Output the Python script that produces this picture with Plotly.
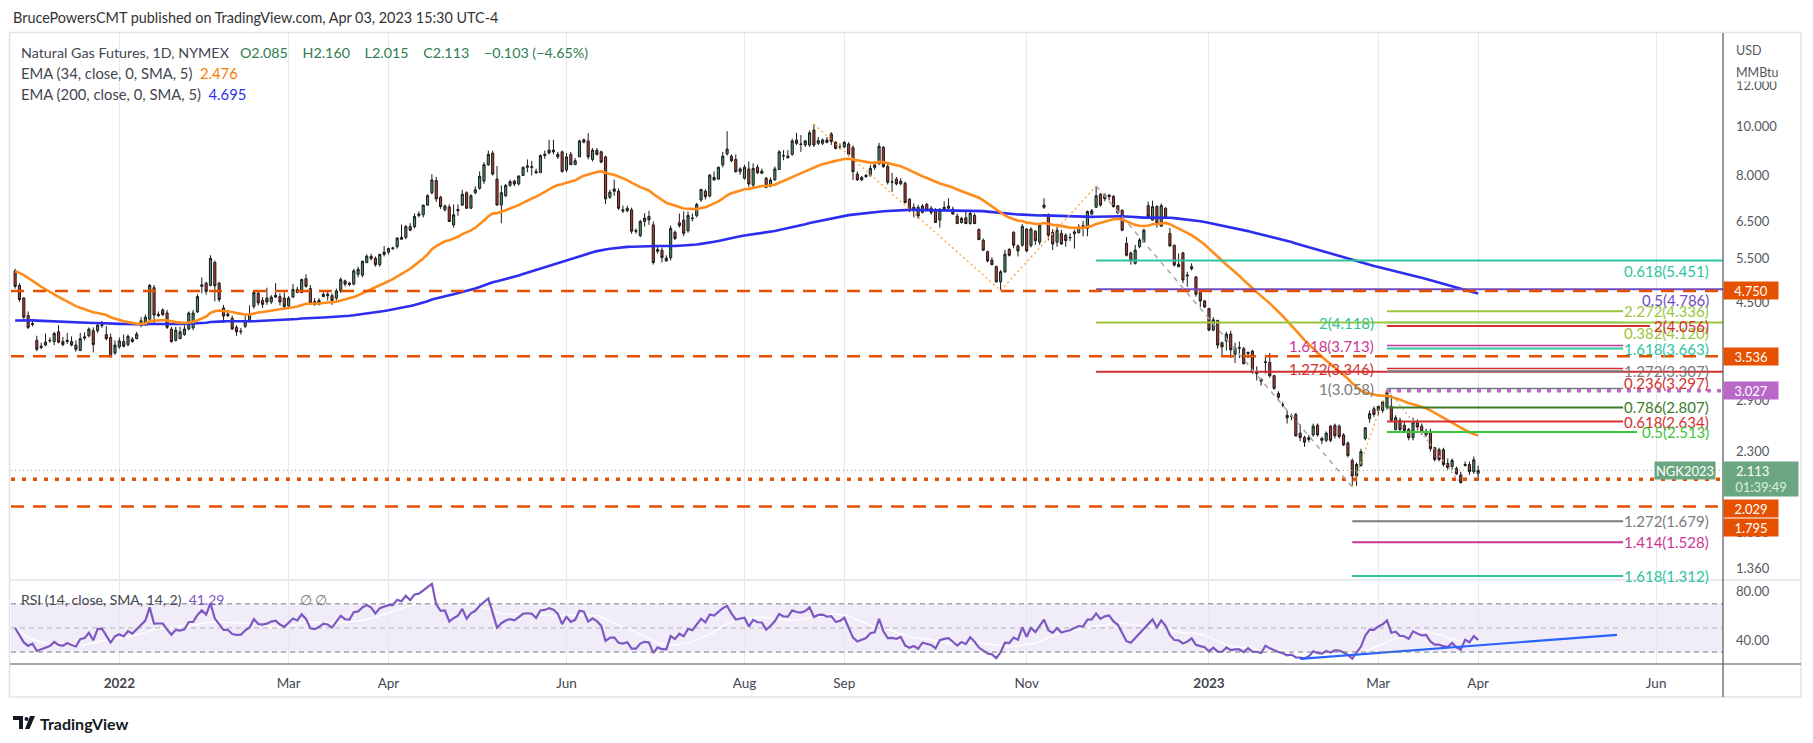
import numpy as np
import pandas as pd
import plotly.graph_objects as go

# ---------------------------------------------------------------- data
HOLIDAYS = ["2021-12-24", "2022-01-17", "2022-02-21", "2022-04-15", "2022-05-30",
            "2022-06-20", "2022-07-04", "2022-09-05", "2022-11-24", "2022-12-26",
            "2023-01-02", "2023-01-16", "2023-02-20", "2023-04-07", "2023-05-29"]
FIRST_BAR = "2021-11-29"

opens = [
    5.20, 4.87, 4.60, 4.25, 4.08, 3.80, 3.68, 3.72, 3.79, 3.78,
    3.95, 3.78, 3.78, 3.78, 3.72, 3.63, 3.84, 3.88, 3.97, 3.97,
    4.06, 3.90, 3.85, 3.59, 3.69, 3.78, 3.73, 3.82, 3.83, 4.15,
    4.10, 4.18, 4.82, 4.25, 4.36, 4.30, 4.00, 3.80, 3.83, 3.90,
    4.00, 4.02, 4.32, 4.85, 4.92, 4.87, 5.40, 4.92, 4.40, 4.28,
    4.20, 4.03, 3.95, 4.05, 4.15, 4.43, 4.70, 4.55, 4.60, 4.52,
    4.62, 4.63, 4.60, 4.44, 4.62, 4.78, 4.72, 5.02, 4.80, 4.53,
    4.47, 4.63, 4.68, 4.65, 4.60, 4.75, 4.97, 4.92, 4.90, 5.12,
    5.10, 5.40, 5.55, 5.50, 5.35, 5.60, 5.66, 5.77, 5.80, 6.05,
    6.05, 6.35, 6.35, 6.68, 6.70, 7.00, 7.40, 7.82, 7.25, 6.85,
    6.94, 6.40, 6.82, 7.00, 7.40, 6.90, 7.40, 7.55, 7.80, 8.40,
    8.85, 7.87, 7.00, 7.30, 7.65, 7.80, 7.70, 8.00, 8.30, 8.30,
    8.15, 8.10, 8.75, 8.85, 8.97, 8.80, 8.90, 8.20, 8.80, 8.40,
    8.70, 9.40, 9.35, 8.60, 8.97, 8.90, 8.70, 7.25, 7.53, 7.45,
    6.85, 6.82, 6.85, 6.24, 6.10, 6.50, 6.65, 6.40, 5.68, 5.71,
    5.44, 5.52, 6.19, 6.46, 6.54, 6.23, 6.60, 6.67, 7.16, 7.45,
    7.29, 7.84, 7.87, 8.39, 8.82, 8.73, 8.60, 8.14, 7.90, 8.24,
    7.66, 8.30, 8.16, 7.90, 7.66, 7.84, 8.22, 8.75, 8.67, 8.80,
    9.39, 9.20, 9.18, 9.18, 9.82, 9.25, 9.25, 9.39, 9.65, 9.29,
    9.10, 9.10, 9.22, 9.07, 8.05, 7.84, 7.95, 8.01, 8.39, 8.43,
    9.09, 8.33, 7.76, 7.87, 7.71, 7.72, 7.19, 6.84, 6.93, 6.77,
    7.02, 6.90, 6.82, 6.54, 6.87, 6.90, 6.87, 6.66, 6.47, 6.61,
    6.44, 6.68, 6.27, 5.97, 5.67, 5.46, 5.30, 4.95, 5.18, 5.73,
    6.19, 5.82, 5.84, 6.28, 5.83, 6.22, 5.92, 7.00, 6.69, 6.19,
    5.92, 6.16, 6.11, 6.05, 6.15, 6.18, 6.38, 6.30, 6.72, 6.93,
    7.35, 7.32, 7.32, 7.28, 6.98, 6.84, 5.89, 5.64, 5.38, 5.80,
    5.92, 6.98, 6.54, 6.95, 6.36, 6.90, 6.16, 5.84, 5.36, 5.64,
    5.08, 5.25, 5.06, 4.77, 4.54, 4.39, 3.98, 4.16, 3.76, 3.79,
    3.91, 3.57, 3.68, 3.66, 3.60, 3.62, 3.30, 3.19, 3.45, 3.44,
    3.24, 2.99, 2.84, 2.71, 2.70, 2.72, 2.50, 2.45, 2.43, 2.48,
    2.59, 2.42, 2.42, 2.58, 2.59, 2.58, 2.48, 2.39, 2.21, 2.06,
    2.16, 2.44, 2.67, 2.79, 2.77, 2.77, 2.81, 2.82, 2.54, 2.65,
    2.59, 2.54, 2.45, 2.62, 2.58, 2.48, 2.52, 2.34, 2.32, 2.32,
    2.18, 2.15, 2.13, 2.07, 2.16, 2.17, 2.10, 2.085]

highs = [
    5.25, 4.92, 4.62, 4.33, 4.14, 3.88, 3.76, 3.92, 3.85, 3.95,
    4.07, 3.86, 3.93, 3.87, 3.80, 3.93, 3.94, 4.03, 4.03, 4.10,
    4.15, 4.05, 3.92, 3.80, 3.85, 3.90, 3.90, 3.86, 3.95, 4.22,
    4.27, 4.90, 4.88, 4.33, 4.39, 4.36, 4.04, 4.04, 4.04, 4.07,
    4.33, 4.36, 4.68, 5.05, 4.95, 5.58, 5.45, 4.95, 4.46, 4.36,
    4.25, 4.07, 4.02, 4.25, 4.45, 4.74, 4.75, 4.62, 4.82, 4.66,
    4.92, 4.70, 4.72, 4.64, 4.90, 4.84, 5.02, 5.12, 4.88, 4.60,
    4.60, 4.72, 4.76, 4.70, 4.80, 5.05, 5.00, 4.95, 5.25, 5.30,
    5.45, 5.60, 5.62, 5.55, 5.62, 5.82, 5.78, 5.80, 6.05, 6.41,
    6.40, 6.45, 6.74, 6.80, 7.00, 7.35, 8.05, 7.95, 7.30, 7.02,
    7.02, 7.02, 7.02, 7.50, 7.45, 7.35, 7.62, 8.15, 8.50, 8.95,
    8.95, 8.35, 7.65, 7.70, 7.85, 7.85, 8.00, 8.33, 8.60, 8.55,
    8.25, 8.80, 8.95, 9.40, 9.40, 8.90, 8.95, 8.85, 8.90, 8.65,
    9.40, 9.45, 9.68, 9.05, 9.05, 8.95, 8.75, 7.50, 7.85, 7.55,
    6.98, 6.98, 6.92, 6.30, 6.55, 6.75, 6.82, 6.50, 5.85, 5.78,
    5.58, 6.38, 6.24, 6.74, 6.80, 6.80, 6.74, 7.07, 7.53, 7.52,
    8.05, 8.15, 8.33, 8.90, 9.77, 8.80, 8.80, 8.30, 8.40, 8.52,
    8.45, 8.40, 8.25, 7.95, 7.93, 8.33, 8.97, 8.97, 8.97, 9.45,
    9.70, 9.60, 9.40, 9.80, 10.08, 9.52, 9.45, 9.52, 9.73, 9.34,
    9.25, 9.35, 9.30, 9.17, 8.15, 7.98, 8.05, 8.40, 8.52, 9.27,
    9.13, 8.43, 8.10, 7.95, 7.90, 7.78, 7.21, 7.05, 7.00, 7.03,
    7.07, 6.97, 6.90, 6.90, 7.12, 7.22, 6.95, 6.74, 6.64, 6.80,
    6.80, 6.74, 6.30, 6.02, 5.70, 5.53, 5.33, 5.22, 5.72, 5.76,
    6.22, 5.86, 6.42, 6.31, 6.33, 6.25, 6.46, 7.22, 6.74, 6.28,
    6.35, 6.26, 6.16, 6.16, 6.26, 6.42, 6.52, 6.83, 6.88, 7.63,
    7.38, 7.38, 7.35, 7.32, 6.99, 6.86, 6.06, 5.67, 5.85, 6.03,
    6.29, 7.11, 7.14, 7.00, 7.05, 6.93, 6.31, 5.85, 5.63, 5.67,
    5.18, 5.38, 5.08, 4.77, 4.56, 4.39, 4.22, 4.16, 3.78, 3.95,
    3.97, 3.76, 3.78, 3.69, 3.61, 3.64, 3.38, 3.20, 3.56, 3.59,
    3.25, 3.02, 2.88, 2.77, 2.73, 2.74, 2.60, 2.47, 2.48, 2.61,
    2.61, 2.46, 2.52, 2.59, 2.61, 2.60, 2.50, 2.41, 2.23, 2.19,
    2.33, 2.57, 2.77, 2.82, 2.83, 2.90, 3.058, 2.97, 2.71, 2.68,
    2.63, 2.56, 2.68, 2.66, 2.61, 2.55, 2.55, 2.35, 2.34, 2.34,
    2.23, 2.23, 2.15, 2.10, 2.20, 2.20, 2.25, 2.16]

lows = [
    4.80, 4.52, 4.18, 4.00, 4.05, 3.62, 3.65, 3.70, 3.76, 3.72,
    3.75, 3.70, 3.74, 3.70, 3.61, 3.62, 3.80, 3.85, 3.60, 3.93,
    4.02, 3.80, 3.52, 3.56, 3.66, 3.68, 3.70, 3.76, 3.82, 4.03,
    4.06, 4.12, 4.08, 4.22, 4.24, 4.00, 3.76, 3.78, 3.82, 3.88,
    3.98, 3.98, 4.30, 4.70, 4.67, 4.85, 4.53, 4.52, 4.11, 4.22,
    3.98, 3.88, 3.90, 4.02, 4.12, 4.38, 4.45, 4.40, 4.46, 4.48,
    4.60, 4.45, 4.38, 4.40, 4.60, 4.70, 4.70, 4.82, 4.48, 4.44,
    4.45, 4.62, 4.55, 4.46, 4.55, 4.71, 4.85, 4.85, 4.87, 5.05,
    5.05, 5.38, 5.45, 5.30, 5.30, 5.55, 5.60, 5.72, 5.75, 5.98,
    6.00, 6.22, 6.30, 6.62, 6.62, 6.98, 7.35, 7.10, 6.88, 6.80,
    6.50, 6.32, 6.67, 6.97, 6.88, 6.88, 7.35, 7.50, 7.70, 8.35,
    8.00, 6.98, 6.45, 7.25, 7.60, 7.62, 7.65, 7.98, 8.12, 8.00,
    8.05, 8.10, 8.63, 8.80, 8.80, 8.62, 8.10, 8.12, 8.40, 8.40,
    8.70, 9.25, 8.60, 8.52, 8.75, 8.45, 7.03, 7.20, 7.30, 6.85,
    6.75, 6.78, 6.15, 6.15, 6.05, 6.35, 6.40, 5.35, 5.62, 5.40,
    5.42, 5.45, 5.98, 6.32, 6.08, 6.18, 6.50, 6.62, 7.10, 7.18,
    7.25, 7.82, 7.85, 8.30, 8.75, 8.50, 8.10, 8.02, 7.85, 7.60,
    7.60, 8.05, 8.06, 7.55, 7.58, 7.82, 8.20, 8.57, 8.63, 8.75,
    9.18, 8.90, 9.10, 9.10, 9.10, 9.18, 9.18, 9.25, 9.18, 9.00,
    9.00, 9.05, 8.72, 7.84, 7.82, 7.80, 7.93, 7.95, 8.20, 8.40,
    8.28, 7.68, 7.43, 7.65, 7.65, 7.05, 6.78, 6.62, 6.58, 6.74,
    6.80, 6.70, 6.46, 6.32, 6.84, 6.88, 6.70, 6.42, 6.44, 6.42,
    6.41, 6.42, 5.98, 5.69, 5.40, 5.33, 4.93, 4.76, 5.15, 5.55,
    5.76, 5.55, 5.80, 5.66, 5.78, 5.85, 5.85, 6.88, 5.97, 5.71,
    5.80, 5.85, 5.80, 5.95, 5.75, 6.16, 6.08, 6.08, 6.70, 6.92,
    6.95, 7.12, 7.15, 6.92, 6.72, 6.22, 5.55, 5.35, 5.35, 5.76,
    5.90, 6.58, 6.53, 6.32, 6.36, 6.60, 5.80, 5.30, 5.29, 4.92,
    4.84, 5.21, 4.63, 4.42, 4.40, 3.96, 3.96, 3.66, 3.54, 3.63,
    3.51, 3.43, 3.51, 3.41, 3.51, 3.27, 3.17, 3.10, 3.27, 3.21,
    3.04, 2.89, 2.81, 2.61, 2.65, 2.46, 2.41, 2.35, 2.40, 2.46,
    2.46, 2.38, 2.40, 2.40, 2.44, 2.44, 2.36, 2.24, 1.96, 1.97,
    2.15, 2.42, 2.62, 2.69, 2.71, 2.74, 2.78, 2.63, 2.53, 2.52,
    2.50, 2.42, 2.42, 2.53, 2.48, 2.46, 2.30, 2.20, 2.20, 2.15,
    2.12, 2.12, 2.07, 1.99, 2.15, 2.07, 2.08, 2.015]

closes = [
    4.85, 4.57, 4.22, 4.03, 4.10, 3.65, 3.70, 3.77, 3.80, 3.92,
    3.77, 3.73, 3.80, 3.72, 3.65, 3.83, 3.86, 4.00, 3.73, 4.07,
    4.08, 3.83, 3.53, 3.72, 3.79, 3.70, 3.87, 3.78, 3.91, 4.08,
    4.22, 4.87, 4.26, 4.27, 4.27, 4.03, 3.78, 3.98, 3.95, 4.00,
    4.30, 4.30, 4.63, 4.88, 4.74, 5.50, 4.86, 4.57, 4.24, 4.25,
    4.00, 3.95, 3.96, 4.15, 4.28, 4.72, 4.50, 4.47, 4.52, 4.62,
    4.66, 4.52, 4.43, 4.60, 4.78, 4.72, 5.00, 4.85, 4.50, 4.47,
    4.55, 4.68, 4.65, 4.55, 4.75, 5.00, 4.90, 4.89, 5.20, 5.24,
    5.43, 5.56, 5.50, 5.35, 5.60, 5.66, 5.75, 5.75, 6.03, 6.00,
    6.35, 6.25, 6.65, 6.72, 7.00, 7.30, 7.84, 7.20, 6.95, 6.97,
    6.50, 6.70, 6.86, 7.35, 6.90, 7.30, 7.50, 7.97, 8.40, 8.80,
    8.05, 7.00, 7.40, 7.65, 7.78, 7.70, 7.98, 8.30, 8.35, 8.32,
    8.10, 8.75, 8.80, 8.97, 8.90, 8.70, 8.15, 8.70, 8.40, 8.55,
    9.35, 9.30, 8.70, 8.97, 8.80, 8.50, 7.20, 7.42, 7.45, 6.90,
    6.82, 6.90, 6.22, 6.22, 6.50, 6.60, 6.55, 5.40, 5.73, 5.52,
    5.51, 6.30, 6.02, 6.38, 6.16, 6.68, 6.59, 7.02, 7.51, 7.27,
    8.01, 7.93, 8.30, 8.73, 9.01, 8.55, 8.14, 8.24, 8.30, 7.70,
    8.26, 8.10, 8.08, 7.58, 7.84, 8.24, 8.90, 8.74, 8.73, 9.35,
    9.25, 9.22, 9.35, 9.70, 9.18, 9.36, 9.39, 9.29, 9.32, 9.04,
    9.10, 9.29, 8.80, 8.14, 7.84, 7.93, 8.01, 8.26, 8.30, 9.13,
    8.33, 7.76, 7.77, 7.70, 7.80, 7.08, 6.84, 6.93, 6.66, 6.97,
    6.84, 6.77, 6.47, 6.87, 6.93, 6.97, 6.72, 6.44, 6.59, 6.44,
    6.74, 6.44, 5.99, 5.71, 5.44, 5.35, 4.95, 5.18, 5.61, 5.58,
    5.84, 5.69, 6.36, 5.69, 6.28, 5.96, 6.39, 6.93, 6.11, 5.87,
    6.25, 5.87, 5.96, 6.04, 6.20, 6.34, 6.30, 6.80, 6.82, 7.30,
    7.00, 7.20, 7.27, 6.95, 6.76, 6.25, 5.58, 5.44, 5.71, 5.98,
    6.25, 6.64, 6.95, 6.43, 6.98, 6.60, 5.82, 5.34, 5.30, 4.99,
    5.10, 5.30, 4.68, 4.54, 4.42, 3.98, 4.17, 3.72, 3.69, 3.91,
    3.64, 3.67, 3.67, 3.42, 3.58, 3.29, 3.27, 3.16, 3.44, 3.24,
    3.06, 2.94, 2.84, 2.68, 2.70, 2.47, 2.45, 2.40, 2.45, 2.58,
    2.48, 2.44, 2.50, 2.42, 2.47, 2.46, 2.37, 2.26, 2.06, 2.17,
    2.30, 2.56, 2.73, 2.72, 2.82, 2.88, 3.00, 2.65, 2.68, 2.54,
    2.53, 2.45, 2.63, 2.57, 2.51, 2.52, 2.33, 2.22, 2.22, 2.17,
    2.14, 2.21, 2.08, 2.00, 2.17, 2.10, 2.216, 2.113]

TICK_MONTHS = ["2022-01", "2022-03", "2022-04", "2022-06", "2022-08", "2022-09",
               "2022-11", "2023-01", "2023-03", "2023-04", "2023-06"]
TICK_LABELS = ["2022", "Mar", "Apr", "Jun", "Aug", "Sep", "Nov", "2023", "Mar", "Apr", "Jun"]
PRICE_TICKS = [1.36, 1.6, 2.3, 2.9, 4.5, 5.5, 6.5, 8.0, 10.0, 12.0]
RSI_TICKS = [40, 80]
RSI_TICK_TEXT = ["40.00", "80.00"]

EMA_FAST_LEN, EMA_SLOW_LEN = 34, 200
EMA_FAST_START, EMA_SLOW_START = 5.21, 4.15
RSI_LEN, RSI_MA_LEN = 14, 14
RSI_START_GAIN, RSI_START_LOSS = 0.08, 0.08

# drawn levels
LEVELS_DASHED = [4.750, 3.536, 1.795]
LEVEL_DOTTED = 2.029
LEVEL_PURPLE = 3.027
LAST_PRICE = 2.113

RSI_TREND_BARS = [296, 369]
RSI_TREND_VALUES = [24.3, 44.3]

TEAL, PURPLE, YGREEN, RED = "#2EC4A0", "#6E4BC4", "#9BC53D", "#D32F2F"
MAGENTA, GRAY, DGREEN, BGREEN = "#CC3596", "#7A7B80", "#3B7A2A", "#3CC43C"

# Fib tools: (ratio, value, colour)
FIB_A = [("0.618", 5.451, TEAL), ("0.5", 4.786, PURPLE), ("0.382", 4.120, YGREEN), ("0.236", 3.297, RED)]
FIB_B = [("2", 4.118, TEAL), ("1.618", 3.713, MAGENTA), ("1.272", 3.346, RED), ("1", 3.058, GRAY)]
FIB_C = [("2.272", 4.336, YGREEN), ("1.618", 3.663, TEAL), ("1.272", 3.307, GRAY),
         ("0.786", 2.807, DGREEN), ("0.618", 2.634, RED), ("0.5", 2.513, BGREEN)]
FIB_D = [("2", 4.056, RED)]
FIB_E = [("1.272", 1.679, GRAY), ("1.414", 1.528, MAGENTA), ("1.618", 1.312, TEAL)]

# ---------------------------------------------------------------- derived
n = min(len(opens), len(highs), len(lows), len(closes))
opens, highs, lows, closes = opens[:n], highs[:n], lows[:n], closes[:n]
highs = [max(h, o, c) for h, o, c in zip(highs, opens, closes)]
lows = [min(l, o, c) for l, o, c in zip(lows, opens, closes)]
xi = np.arange(n)
cal = pd.bdate_range(FIRST_BAR, "2023-08-31", freq="C", holidays=HOLIDAYS)
tick_idx = [int(np.argmax(cal >= pd.Timestamp(m + "-01"))) for m in TICK_MONTHS]
tick_text = [("<b>%s</b>" % t) if t.isdigit() else t for t in TICK_LABELS]


def ema(vals, length, start):
    a = 2.0 / (length + 1)
    out, e = [], start
    for v in vals:
        e = e + a * (v - e)
        out.append(e)
    return out


def rsi(vals, length, g0, l0):
    ag, al, prev, out = g0, l0, None, []
    for v in vals:
        if prev is not None:
            ch = v - prev
            ag = (ag * (length - 1) + max(ch, 0)) / length
            al = (al * (length - 1) + max(-ch, 0)) / length
        prev = v
        out.append(100 - 100 / (1 + ag / al) if al > 0 else 100.0)
    return out


ema_fast = ema(closes, EMA_FAST_LEN, EMA_FAST_START)
ema_slow = ema(closes, EMA_SLOW_LEN, EMA_SLOW_START)
rsi_vals = rsi(closes, RSI_LEN, RSI_START_GAIN, RSI_START_LOSS)
rsi_ma = pd.Series(rsi_vals).rolling(RSI_MA_LEN, min_periods=1).mean().tolist()

H, L = np.array(highs), np.array(lows)
aug_high = int(np.argmax(H))
oct_low = 200 + int(np.argmin(L[200:240]))
nov_high = 240 + int(np.argmax(H[240:262]))
feb_low = int(np.argmin(L))
mar_high = 310 + int(np.argmax(H[310:330]))
mar_low = 320 + int(np.argmin(L[320:n - 1]))

# ---------------------------------------------------------------- layout helpers
FONT = "Lato, Roboto, sans-serif"
OFF = 8                       # page body margin of the written html
FIG_W, FIG_H = 1813 - 2 * OFF, 743 - 2 * OFF
PL, PR, PT, PB = 11, 1723, 33, 664   # plot area in window pixels
X_RANGE = [-0.95, 393.4]
X_END = X_RANGE[1]
FIB_END = 370.4
LABEL_R = 390.7
LABEL_B = 313.5
PRICE_DOM = [0.1347, 1.0]
RSI_DOM = [0.0, 0.1315]


def px(X):
    return (X - PL) / (PR - PL)


def py(Y):
    return (PB - Y) / (PB - PT)


fig = go.Figure()

fig.add_trace(go.Candlestick(
    x=xi, open=opens, high=highs, low=lows, close=closes,
    increasing=dict(fillcolor="#4B9068", line=dict(color="#1a1a1a", width=1)),
    decreasing=dict(fillcolor="#B83B30", line=dict(color="#1a1a1a", width=1)),
    whiskerwidth=0, hoverinfo="skip", xaxis="x", yaxis="y"))

fig.add_trace(go.Scatter(x=xi, y=ema_slow, mode="lines", line=dict(color="#2D2DF0", width=2.6),
                         hoverinfo="skip", xaxis="x", yaxis="y"))
fig.add_trace(go.Scatter(x=xi, y=ema_fast, mode="lines", line=dict(color="#FF8C1A", width=2.6),
                         hoverinfo="skip", xaxis="x", yaxis="y"))


def seg(xs, ys, color, width=2.0, dash="solid", xa="x", ya="y"):
    fig.add_trace(go.Scatter(x=xs, y=ys, mode="lines", line=dict(color=color, width=width, dash=dash),
                             hoverinfo="skip", xaxis=xa, yaxis=ya))


def label(x, v, text, color, anchor, yshift=0, size=15):
    fig.add_annotation(x=x, y=np.log10(v), xref="x", yref="y", text=text, showarrow=False,
                       xanchor=anchor, yanchor="middle", yshift=yshift,
                       font=dict(family=FONT, size=size, color=color))


# last price line
seg([X_RANGE[0], X_END], [LAST_PRICE, LAST_PRICE], "#6AA680", 1, "1px,3px")

# fib tool B (lines from March high, labels on the left)
for r, v, c in FIB_B:
    seg([mar_high, FIB_END], [v, v], c, 1.5)
    label(LABEL_B, v, "%s(%.3f)" % (r, v), c, "right")
# fib tool A (from the November high, extended right, labels below)
for r, v, c in FIB_A:
    seg([nov_high, X_END], [v, v], c, 2)
    label(LABEL_R, v, "%s(%.3f)" % (r, v), c, "right", yshift=-11)
# fib tool C
for r, v, c in FIB_C:
    end = FIB_END + (3.2 if r == "0.5" else 0)
    seg([mar_high, end], [v, v], c, 2)
    label(LABEL_R, v, "%s(%.3f)" % (r, v), c, "right")
for r, v, c in FIB_D:
    seg([mar_high, FIB_END + 6.2], [v, v], c, 2)
    label(LABEL_R, v, "%s(%.3f)" % (r, v), c, "right")
for r, v, c in FIB_E:
    seg([feb_low, FIB_END], [v, v], c, 2)
    label(LABEL_R, v, "%s(%.3f)" % (r, v), c, "right")

# orange horizontal levels
for v in LEVELS_DASHED:
    seg([X_RANGE[0], X_END], [v, v], "#E65100", 2.5, "13px,9px")
seg([X_RANGE[0], X_END], [LEVEL_DOTTED, LEVEL_DOTTED], "#E65100", 3.5, "4px,7px")
seg([mar_high, X_END], [LEVEL_PURPLE, LEVEL_PURPLE], "#BA68C8", 3.5, "4px,6px")

# swing lines
seg([aug_high, oct_low, nov_high], [H[aug_high], L[oct_low], H[nov_high]], "#FFA940", 1.4, "2px,3px")
seg([nov_high, feb_low], [H[nov_high], L[feb_low]], "#A5A7AD", 1.5, "5px,5px")
seg([feb_low, mar_high], [L[feb_low], H[mar_high]], "#FFA940", 1.4, "2px,3px")
seg([mar_high, mar_low], [H[mar_high], L[mar_low]], "#C4B09A", 1.4, "2px,3px")

# ---------------------------------------------------------------- RSI pane
fig.add_shape(type="rect", xref="x2", yref="y2", x0=X_RANGE[0], x1=X_END, y0=30, y1=70,
              fillcolor="rgba(126,87,194,0.11)", line=dict(width=0), layer="below")
for lv, col in [(70, "#787B86"), (50, "rgba(120,123,134,0.55)"), (30, "#787B86")]:
    fig.add_shape(type="line", xref="x2", yref="y2", x0=X_RANGE[0], x1=X_END, y0=lv, y1=lv,
                  line=dict(color=col, width=1, dash="5px,4px"))
seg(xi, rsi_ma, "rgba(255,255,255,0.95)", 1.3, xa="x2", ya="y2")
seg(xi, rsi_vals, "#7E57C2", 2.2, xa="x2", ya="y2")
seg(RSI_TREND_BARS, RSI_TREND_VALUES, "#2962FF", 2.2, xa="x2", ya="y2")

# ---------------------------------------------------------------- price-axis boxes


def axis_box(v, text, bg, yshift=0, width=54, height=17, xanchor="left", x=1.0, yanchor="middle"):
    fig.add_annotation(x=x, xref="paper", xanchor=xanchor, y=np.log10(v), yref="y",
                       yanchor=yanchor, text=text, showarrow=False, bgcolor=bg, borderpad=0,
                       font=dict(color="white", size=13, family=FONT), width=width, height=height,
                       align="center", valign="middle", yshift=yshift)


axis_box(LEVELS_DASHED[0], "4.750", "#E65100")
axis_box(LEVELS_DASHED[1], "3.536", "#E65100")
axis_box(LEVEL_PURPLE, "3.027", "#BA68C8")
axis_box(LAST_PRICE, "2.113\u00a0\u00a0\u00a0\u00a0\u00a0<br><span style='color:#DCEFE2'>01:39:49</span>", "#6AA680",
         yshift=9, width=74, height=34, yanchor="top")
axis_box(LEVEL_DOTTED, "2.029", "#E65100", yshift=-29)
axis_box(LEVELS_DASHED[2], "1.795", "#E65100", yshift=-21)
axis_box(LAST_PRICE, "NGK2023", "#6AA680", width=60, xanchor="right", x=px(1716))


def text_at(X, Y, text, size=14, color="#434651", anchor="left", **kw):
    fig.add_annotation(x=px(X), y=py(Y), xref="paper", yref="paper", text=text, showarrow=False,
                       xanchor=anchor, yanchor="middle", font=dict(family=FONT, size=size, color=color), **kw)


GREEN_TXT = "#2E7D4F"
chg = closes[-1] - closes[-2]
pct = chg / closes[-2] * 100
NB = "\u00a0\u00a0"
GAP = "\u00a0" * 4
legend1 = ("Natural Gas Futures, 1D, NYMEX" + "\u00a0" * 3 +
           "<span style='color:%s'>O%.3f%sH%.3f%sL%.3f%sC%.3f%s%s%.3f (%s%.2f%%)</span>" % (
               GREEN_TXT, opens[-1], GAP, highs[-1], GAP, lows[-1], GAP, closes[-1], GAP,
               "\u2212", abs(chg), "\u2212", abs(pct)))
text_at(11, 17, "BrucePowersCMT published on TradingView.com, Apr 03, 2023 15:30 UTC-4", 14.4, "#333333")
text_at(19, 53, legend1, 14.3)
text_at(19, 73, "EMA (34, close, 0, SMA, 5)" + NB + "<span style='color:#F57C00'>2.476</span>", 14.8)
text_at(19, 93.5, "EMA (200, close, 0, SMA, 5)" + NB + "<span style='color:#3333E6'>4.695</span>", 14.8)
text_at(19, 599, "RSI (14, close, SMA, 14, 2)" + NB + "<span style='color:#7E57C2'>41.29</span>" +
        "\u00a0" * 21 + "<span style='color:#787B86'>\u2205 \u2205</span>", 14)
text_at(1734, 50, "USD", 12.5, "#555861")
text_at(1734, 73, "MMBtu", 12.5, "#555861", bgcolor="white")
text_at(38, 723, "<b>TradingView</b>", 16, "#131722")

# frame and separators
fig.add_shape(type="rect", xref="paper", yref="paper", x0=px(9.5), x1=px(1801), y0=py(697), y1=py(32.5),
              line=dict(color="#E0E3EB", width=1.5))
fig.add_shape(type="line", xref="paper", yref="paper", x0=px(10), x1=px(1801), y0=py(580), y1=py(580),
              line=dict(color="#E0E3EB", width=1.5))
fig.add_shape(type="line", xref="paper", yref="paper", x0=px(10), x1=px(1801), y0=py(664), y1=py(664),
              line=dict(color="#50535E", width=1.2))
fig.add_shape(type="line", xref="paper", yref="paper", x0=1, x1=1, y0=py(697), y1=py(33),
              line=dict(color="#50535E", width=1.2))


def poly(pts):
    return "M " + " L ".join("%f,%f" % (px(a), py(b)) for a, b in pts) + " Z"


fig.add_shape(type="path", xref="paper", yref="paper", path=poly([(13, 716), (23, 716), (23, 729), (19, 729), (19, 720), (13, 720)]),
              fillcolor="#131722", line=dict(width=0))
fig.add_shape(type="circle", xref="paper", yref="paper", x0=px(24.5), x1=px(28.5), y0=py(721), y1=py(717),
              fillcolor="#131722", line=dict(width=0))
fig.add_shape(type="path", xref="paper", yref="paper", path=poly([(30, 716), (35, 716), (29.5, 729), (25, 729)]),
              fillcolor="#131722", line=dict(width=0))

GRID = "#E6E8EF"
tickfont = dict(family=FONT, size=13, color="#555861")
fig.update_layout(
    width=FIG_W, height=FIG_H,
    margin=dict(l=PL - OFF, r=FIG_W - (PR - OFF), t=PT - OFF, b=FIG_H - (PB - OFF), pad=0),
    paper_bgcolor="white", plot_bgcolor="white", showlegend=False,
    xaxis=dict(domain=[0, 1], anchor="y", range=X_RANGE, tickvals=tick_idx, showticklabels=False,
               ticks="", showgrid=True, gridcolor=GRID, gridwidth=1, zeroline=False, showline=False,
               rangeslider=dict(visible=False)),
    yaxis=dict(domain=PRICE_DOM, anchor="x", type="log",
               range=[np.log10(1.294), np.log10(15.22)], side="right",
               tickvals=PRICE_TICKS, ticktext=["%.3f" % v for v in PRICE_TICKS], ticks="",
               ticklabelstandoff=12, tickfont=tickfont, showgrid=False, zeroline=False, showline=False),
    xaxis2=dict(domain=[0, 1], anchor="y2", range=X_RANGE, tickvals=tick_idx, ticktext=tick_text,
                ticks="", ticklabelstandoff=9, tickfont=dict(family=FONT, size=13.5, color="#434651"),
                showgrid=True, gridcolor=GRID, gridwidth=1, zeroline=False, showline=False),
    yaxis2=dict(domain=RSI_DOM, anchor="x2", range=[20.1, 88.9], side="right",
                tickvals=RSI_TICKS, ticktext=RSI_TICK_TEXT, ticks="", ticklabelstandoff=12,
                tickfont=tickfont, showgrid=False, zeroline=False, showline=False),
)

fig.write_html("out.html")
